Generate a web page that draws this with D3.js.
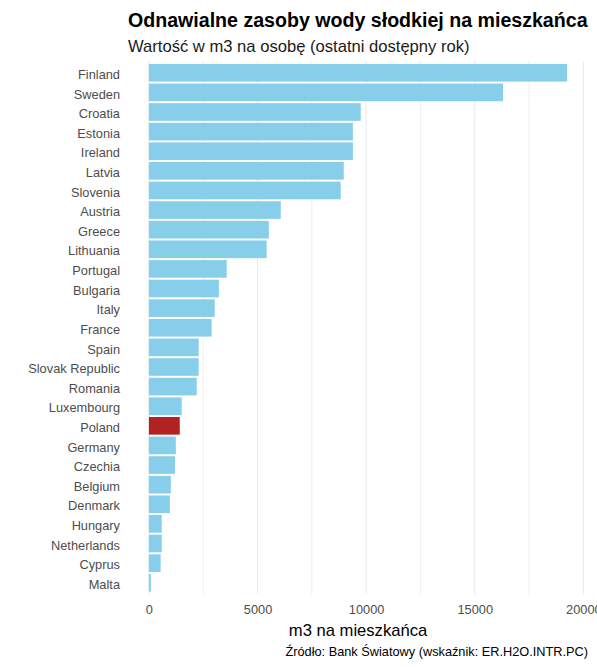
<!DOCTYPE html>
<html>
<head>
<meta charset="utf-8">
<script src="https://cdn.jsdelivr.net/npm/d3@7"></script>
<style>
  body { margin: 0; background: #fff; }
  svg { font-family: "Liberation Sans", Arial, sans-serif; }
</style>
</head>
<body>
<svg id="chart"></svg>
<script>
// kraje i wartości (m3 na osobę)
const countries = ['Finland', 'Sweden', 'Croatia', 'Estonia', 'Ireland', 'Latvia', 'Slovenia',
  'Austria', 'Greece', 'Lithuania', 'Portugal', 'Bulgaria', 'Italy', 'France', 'Spain',
  'Slovak Republic', 'Romania', 'Luxembourg', 'Poland', 'Germany', 'Czechia', 'Belgium',
  'Denmark', 'Hungary', 'Netherlands', 'Cyprus', 'Malta'];
const values = [19250, 16300, 9750, 9390, 9390, 8970, 8830,
  6070, 5520, 5420, 3580, 3220, 3030, 2890, 2290,
  2290, 2200, 1510, 1420, 1240, 1200, 1010,
  960, 590, 590, 540, 90];
const xTicks = [0, 5000, 10000, 15000, 20000];
const minorTicks = [2500, 7500, 12500, 17500];
const highlight = 'Poland';

const width = 597, height = 667;
const data = countries.map((c, i) => ({ country: c, value: values[i] }));

const svg = d3.select('#chart')
  .attr('width', width)
  .attr('height', height);

// ggplot-style 5% expansion on the value axis
const maxV = d3.max(values);
const pad = maxV * 0.05;
const x = d3.scaleLinear()
  .domain([-pad, maxV + pad])
  .range([128, 588]);

const y = d3.scaleBand()
  .domain(countries)
  .range([61, 594.5])
  .paddingInner(0.1)
  .paddingOuter(0.15);

// gridlines
svg.append('g')
  .selectAll('line')
  .data(minorTicks.concat(xTicks))
  .enter()
  .append('line')
  .attr('x1', d => x(d))
  .attr('x2', d => x(d))
  .attr('y1', 61)
  .attr('y2', 594.5)
  .attr('stroke', '#ebebeb')
  .attr('stroke-width', d => xTicks.includes(d) ? 1.1 : 0.8);

// bars
svg.selectAll('.bar')
  .data(data)
  .enter()
  .append('rect')
  .attr('x', x(0))
  .attr('y', d => y(d.country))
  .attr('width', d => x(d.value) - x(0))
  .attr('height', y.bandwidth())
  .attr('fill', d => d.country === highlight ? '#b22222' : '#87ceeb');

// y axis labels
svg.append('g')
  .attr('transform', 'translate(120,0)')
  .call(d3.axisLeft(y).tickSize(0).tickPadding(0))
  .call(g => g.select('.domain').remove())
  .selectAll('text')
  .attr('dy', '0.48em')
  .attr('font-size', 12.8)
  .attr('font-family', '"Liberation Sans", Arial, sans-serif')
  .attr('fill', '#4d4d4d');

// x axis labels
svg.append('g')
  .attr('transform', 'translate(0,605)')
  .call(d3.axisBottom(x).tickValues(xTicks).tickSize(0).tickPadding(0).tickFormat(d3.format('d')))
  .call(g => g.select('.domain').remove())
  .selectAll('text')
  .attr('font-size', 12.8)
  .attr('font-family', '"Liberation Sans", Arial, sans-serif')
  .attr('fill', '#4d4d4d');

// titles
svg.append('text')
  .attr('x', 128)
  .attr('y', 27)
  .attr('font-size', 19.6)
  .attr('font-weight', 'bold')
  .attr('fill', '#000')
  .text('Odnawialne zasoby wody słodkiej na mieszkańca');

svg.append('text')
  .attr('x', 128)
  .attr('y', 52)
  .attr('font-size', 16.6)
  .attr('fill', '#1a1a1a')
  .text('Wartość w m3 na osobę (ostatni dostępny rok)');

svg.append('text')
  .attr('x', (128 + 588) / 2)
  .attr('y', 636)
  .attr('text-anchor', 'middle')
  .attr('font-size', 16.6)
  .attr('fill', '#000')
  .text('m3 na mieszkańca');

svg.append('text')
  .attr('x', 588)
  .attr('y', 656)
  .attr('text-anchor', 'end')
  .attr('font-size', 12.75)
  .attr('fill', '#000')
  .text('Źródło: Bank Światowy (wskaźnik: ER.H2O.INTR.PC)');
</script>
</body>
</html>
